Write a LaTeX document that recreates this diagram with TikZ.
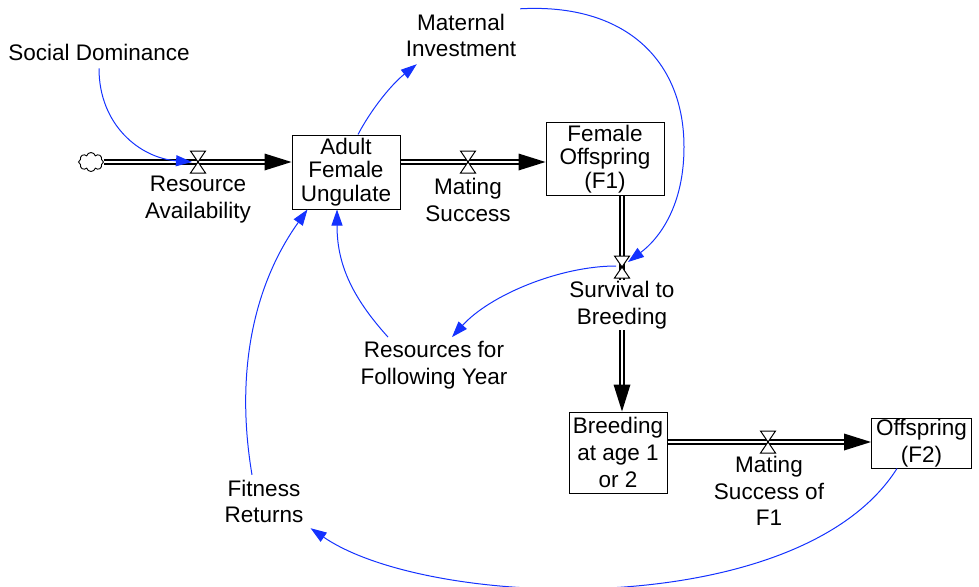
\documentclass[tikz,border=0pt]{standalone}
\usepackage{fontspec}
\setmainfont{Liberation Sans}
\usetikzlibrary{arrows.meta,shapes.symbols,calc}
\definecolor{linkblue}{RGB}{20,50,255}
\begin{document}
\begin{tikzpicture}[x=1pt,y=-1pt,
  lab/.style={fill=white,inner sep=1pt,align=center,font=\fontsize{22.5}{26.5}\selectfont},
  stock/.style={draw,line width=1pt,inner sep=0pt,align=center,font=\fontsize{22.5}{23.5}\selectfont},
  stocktall/.style={stock,font=\fontsize{22.5}{27}\selectfont},
  pipe/.style={draw=black,line width=1.4pt,double=white,double distance=2.6pt},
  link/.style={draw=linkblue,line width=1pt,-{Triangle[length=16pt,width=11pt]}},
  valve/.pic={\draw[fill=white,line width=1pt] (-7.5,-11) -- (7.5,-11) -- (-7.5,11) -- (7.5,11) -- cycle;}
]
\useasboundingbox (0,0) rectangle (979,586);

% stocks
\node[stock,minimum width=108pt,minimum height=74pt] (ad) at (346,172) {Adult\\Female\\Ungulate};
\node[stock,minimum width=118pt,minimum height=73pt] (fo) at (605,159) {Female\\Offspring\\(F1)};
\node[stocktall,minimum width=98pt,minimum height=81pt] (br) at (618,452.5) {Breeding\\at age 1\\or 2};
\node[stocktall,minimum width=100pt,minimum height=50pt] (of) at (921.5,443) {Offspring\\(F2)};
\node[cloud,cloud puffs=8,draw,line width=0.9pt,minimum width=25pt,minimum height=19pt,inner sep=0pt,aspect=1.3] (cl) at (91,162) {};

% valve positions
\coordinate (v1) at (198,162);
\coordinate (v2) at (468,162);
\coordinate (v3) at (622,267);
\coordinate (v4) at (768,442);

% flows
\draw[pipe] (cl.east |- v1) -- ($(ad.west |- v1)+(-20,0)$);
\fill (ad.west |- v1) -- ++(-27,-8.5) -- ++(0,17) -- cycle;
\draw[pipe] (ad.east |- v2) -- ($(fo.west |- v2)+(-20,0)$);
\fill (fo.west |- v2) -- ++(-27,-8.5) -- ++(0,17) -- cycle;
\draw[pipe] (v3 |- fo.south) -- ($(v3 |- br.north)+(0,-20)$);
\fill (v3 |- br.north) -- ++(-8.5,-27) -- ++(17,0) -- cycle;
\draw[pipe] (br.east |- v4) -- ($(of.west |- v4)+(-20,0)$);
\fill (of.west |- v4) -- ++(-27,-8.5) -- ++(0,17) -- cycle;

\pic at (v1) {valve};
\pic at (v2) {valve};
\pic at (v3) {valve};
\pic at (v4) {valve};

% labels
\node[lab] (sd) at (99,52) {Social Dominance};
\node[lab] (mi) at (461,35.5) {Maternal\\Investment};
\node[lab] (ra) at (198,199.5) {Resource\\Availability};
\node[lab] (ms) at (468,200) {Mating\\Success};
\node[lab] (sb) at (622,305) {Survival to\\Breeding};
\node[lab] (rf) at (434,365) {Resources for\\Following Year};
\node[lab] (fr) at (264,501.5) {Fitness\\Returns};
\node[lab] (mf) at (769,491) {Mating\\Success of\\F1};

% links
\draw[link] ($(sd.south)+(0,7)$) .. controls (99,125) and (140,158) .. ($(v1)+(-6,0)$);
\draw[link] ($(ad.north)+(12,0)$) .. controls (372,108) and (392,84) .. ($(mi.south west)+(12,6)$);
\draw[link] ($(mi.north east)+(3,-4)$) .. controls (625,3) and (684,60) .. (684,147)
   .. controls (684,205) and (660,238) .. ($(v3)+(6,-5)$);
\draw[link] ($(v3)+(-6,-1)$) .. controls (560,266) and (490,295) .. ($(rf.north)+(18,-3)$);
\draw[link] ($(rf.north)+(-46,-3)$) .. controls (350,295) and (337,262) .. ($(ad.south)+(-9,0)$);
\draw[link] ($(fr.north)+(-12,-4)$) .. controls (236,380) and (250,290) .. ($(ad.south west)+(16,0)$);
\draw[link] ($(of.south)+(-24.5,0)$) .. controls (800,622) and (430,610) .. ($(fr.south east)+(6,4)$);
\end{tikzpicture}
\end{document}
